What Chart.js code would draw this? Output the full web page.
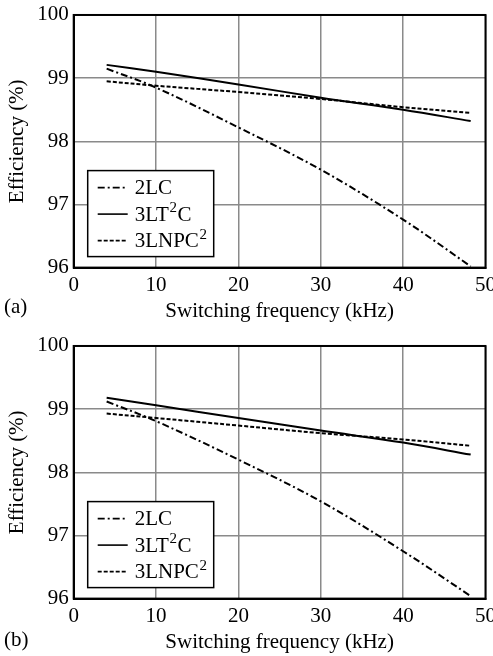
<!DOCTYPE html>
<html>
<head>
<meta charset="utf-8">
<script src="https://cdn.jsdelivr.net/npm/chart.js@4.4.1/dist/chart.umd.min.js"></script>
<style>
  body { margin: 0; background: #fff; overflow: hidden; }
  .panel { position: absolute; left: 0; width: 501px; height: 330px; }
  .tag { position: absolute; left: 4px; font: 21px "Liberation Serif", serif; color: #000; }
</style>
</head>
<body>
<div class="panel" style="top:0"><canvas id="chartA"></canvas></div>
<div class="panel" style="top:331px"><canvas id="chartB"></canvas></div>
<div class="tag" style="top:294px">(a)</div>
<div class="tag" style="top:627px">(b)</div>
<script>
// switching frequency (kHz)
const freq = [4, 10, 20, 30, 40, 48.2];
const seriesNames = ["2LC", "3LT\u00B2C", "3LNPC\u00B2"];

// (a) efficiency (%)
const a2LC = [99.15, 98.85, 98.22, 97.55, 96.76, 96.02];
const a3LT2C = [99.21, 99.10, 98.90, 98.69, 98.50, 98.32];
const a3LNPC2 = [98.95, 98.88, 98.78, 98.67, 98.54, 98.45];

// (b) efficiency (%)
const b2LC = [99.12, 98.81, 98.20, 97.54, 96.75, 96.04];
const b3LT2C = [99.18, 99.06, 98.86, 98.66, 98.47, 98.28];
const b3LNPC2 = [98.93, 98.86, 98.74, 98.62, 98.52, 98.42];

const xTicks = [0, 10, 20, 30, 40, 50];
const yTicks = [96, 97, 98, 99, 100];

const font = "Liberation Serif";
const dashes = [[7, 3, 2, 3], [], [4, 2]];

// label text with "²" drawn as a raised digit
function drawLabel(ctx, text, x, y) {
  const parts = text.split("\u00B2");
  let cx = x;
  parts.forEach((p, k) => {
    ctx.font = "21px '" + font + "'";
    ctx.fillText(p, cx, y);
    cx += ctx.measureText(p).width;
    if (k < parts.length - 1) {
      ctx.font = "15px '" + font + "'";
      ctx.fillText("2", cx + 0.5, y - 7);
      cx += ctx.measureText("2").width + 1;
    }
  });
}

// legend drawn inside the plot, like the paper figure
const insideLegend = {
  id: "insideLegend",
  afterDraw(chart) {
    const ctx = chart.ctx;
    const area = chart.chartArea;
    const x0 = area.left + 14, y0 = area.bottom - 97, w = 126, h = 86;
    ctx.save();
    ctx.fillStyle = "#fff";
    ctx.fillRect(x0, y0, w, h);
    ctx.strokeStyle = "#000";
    ctx.lineWidth = 1.5;
    ctx.strokeRect(x0, y0, w, h);
    ctx.textBaseline = "middle";
    chart.data.datasets.forEach((ds, i) => {
      const y = y0 + 17 + i * 26.5;
      ctx.beginPath();
      ctx.setLineDash(ds.borderDash);
      ctx.lineWidth = 1.6;
      ctx.moveTo(x0 + 10, y);
      ctx.lineTo(x0 + 40, y);
      ctx.stroke();
      ctx.setLineDash([]);
      ctx.fillStyle = "#000";
      drawLabel(ctx, ds.label, x0 + 47, y + 1);
    });
    ctx.restore();
  }
};

function makeChart(id, values) {
  new Chart(document.getElementById(id), {
    type: "line",
    data: {
      datasets: values.map((v, i) => ({
        label: seriesNames[i],
        data: freq.map((f, j) => ({ x: f, y: v[j] })),
        borderColor: "#000",
        borderWidth: 2,
        borderDash: dashes[i],
        pointRadius: 0,
        tension: 0.35,
        fill: false
      }))
    },
    options: {
      responsive: true,
      maintainAspectRatio: false,
      animation: false,
      layout: { padding: { top: 0, right: 0, bottom: 6, left: 5 } },
      scales: {
        x: {
          type: "linear",
          min: 0,
          max: 50,
          afterBuildTicks: (s) => { s.ticks = xTicks.map((v) => ({ value: v })); },
          grid: { color: "#8a8a8a", lineWidth: 1.5, drawTicks: false },
          border: { color: "#000", width: 2 },
          ticks: { color: "#000", font: { family: font, size: 21 }, padding: 5, maxRotation: 0 },
          title: {
            display: true,
            text: "Switching frequency (kHz)",
            color: "#000",
            font: { family: font, size: 21 },
            padding: { top: -4, bottom: 0 }
          }
        },
        y: {
          min: 96,
          max: 100,
          afterBuildTicks: (s) => { s.ticks = yTicks.map((v) => ({ value: v })); },
          grid: { color: "#8a8a8a", lineWidth: 1.5, drawTicks: false },
          border: { color: "#000", width: 2 },
          ticks: { color: "#000", font: { family: font, size: 21, lineHeight: 0.95 }, padding: 5 },
          title: {
            display: true,
            text: "Efficiency (%)",
            color: "#000",
            font: { family: font, size: 21 },
            padding: { top: 0, bottom: 2 }
          }
        }
      },
      plugins: {
        legend: { display: false },
        tooltip: { enabled: false }
      }
    },
    plugins: [insideLegend, {
      id: "frame",
      afterDraw(chart) {
        const a = chart.chartArea, ctx = chart.ctx;
        ctx.save();
        ctx.strokeStyle = "#000";
        ctx.lineWidth = 2;
        ctx.strokeRect(a.left, a.top, a.right - a.left, a.bottom - a.top);
        ctx.restore();
      }
    }]
  });
}

makeChart("chartA", [a2LC, a3LT2C, a3LNPC2]);
makeChart("chartB", [b2LC, b3LT2C, b3LNPC2]);
</script>
</body>
</html>
